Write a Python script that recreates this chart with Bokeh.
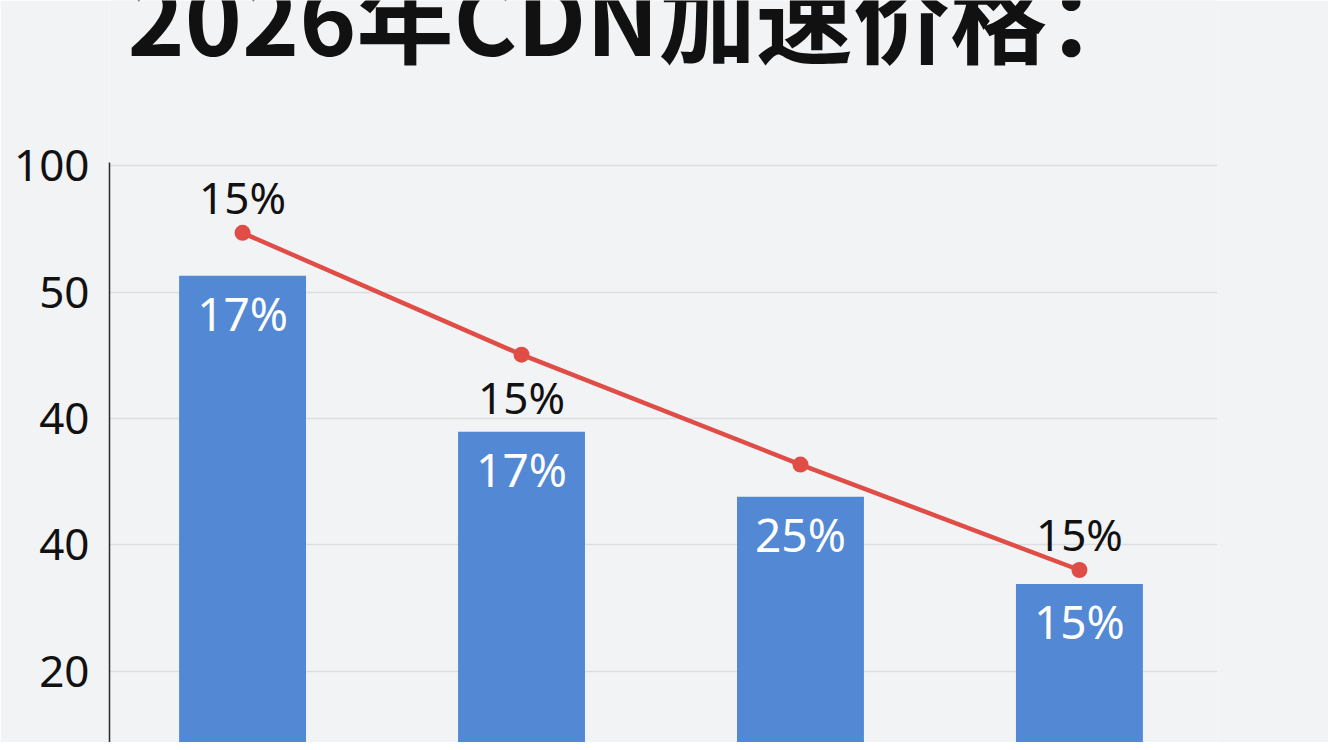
from bokeh.plotting import figure
from bokeh.models import Range1d, ColumnDataSource, Label, FixedTicker
from bokeh.core.properties import value
from bokeh.embed import file_html
from bokeh.resources import INLINE

# ---- data ----
title_text = "2026年CDN加速价格："
x_pos = [0, 1, 2, 3]
bar_values = [82.6, 57.9, 47.6, 33.8]
line_values = [89.4, 70.1, 52.7, 36.0]
bar_inside_labels = ["17%", "17%", "25%", "15%"]
bar_top_labels = ["", "15%", "", ""]
line_labels = ["15%", "", "", "15%"]
tick_positions = [20, 40, 60, 80, 100]
tick_labels = ["20", "40", "40", "50", "100"]

BG = "#F2F3F5"
BAR = "#5388D4"
RED = "#E04D47"

W, H = 1328, 742
LEFT = 109

p = figure(width=W, height=H, output_backend="svg", toolbar_location=None,
           x_range=Range1d(-0.477, 3.495), y_range=Range1d(8.68, 126.2),
           min_border_left=LEFT, min_border_right=111, min_border_top=0,
           min_border_bottom=0)
p.background_fill_color = BG
p.border_fill_color = BG
p.outline_line_color = None

p.xaxis.visible = False
p.xgrid.visible = False

p.yaxis.ticker = FixedTicker(ticks=tick_positions)
p.yaxis.bounds = (8.68, 100.5)
p.yaxis.major_label_overrides = {t: l for t, l in zip(tick_positions, tick_labels)}
p.yaxis.major_tick_line_color = None
p.yaxis.minor_tick_line_color = None
p.yaxis.axis_line_color = "#2a2a2a"
p.yaxis.axis_line_width = 1.5
p.yaxis.major_label_text_font = "Noto Sans"
p.yaxis.major_label_text_font_size = "44px"
p.yaxis.major_label_text_color = "#111111"
p.yaxis.major_label_standoff = 14
p.ygrid.grid_line_color = "#DCDDE1"
p.ygrid.grid_line_width = 1.5

src = ColumnDataSource(dict(x=x_pos, bar=bar_values, line=line_values,
                            inside=bar_inside_labels, top=bar_top_labels,
                            ltxt=line_labels))

p.vbar(x="x", top="bar", bottom=0, width=0.455, source=src,
       fill_color=BAR, line_color=None)
p.line(x="x", y="line", source=src, line_color=RED, line_width=4.5)
p.scatter(x="x", y="line", source=src, size=16, fill_color=RED, line_color=None)

p.text(x="x", y="bar", text="inside", source=src, text_color="white",
       text_font=value("Noto Sans"), text_font_size="46px",
       text_align="center", text_baseline="middle", y_offset=37)
p.text(x="x", y="bar", text="top", source=src, text_color="#111111",
       text_font=value("Noto Sans"), text_font_size="44px",
       text_align="center", text_baseline="middle", y_offset=-35)
p.text(x="x", y="line", text="ltxt", source=src, text_color="#111111",
       text_font=value("Noto Sans"), text_font_size="44px",
       text_align="center", text_baseline="middle", y_offset=-36)

# Label screen x is measured from the frame's left edge
title = Label(x=127 - LEFT, y=H - 13, x_units="screen", y_units="screen",
              text=title_text,
              text_font="Noto Sans CJK SC", text_font_style="bold",
              text_font_size="97px", text_color="#111111",
              text_baseline="middle", text_align="left")
p.add_layout(title)

open("out.html", "w").write(file_html(p, INLINE))
